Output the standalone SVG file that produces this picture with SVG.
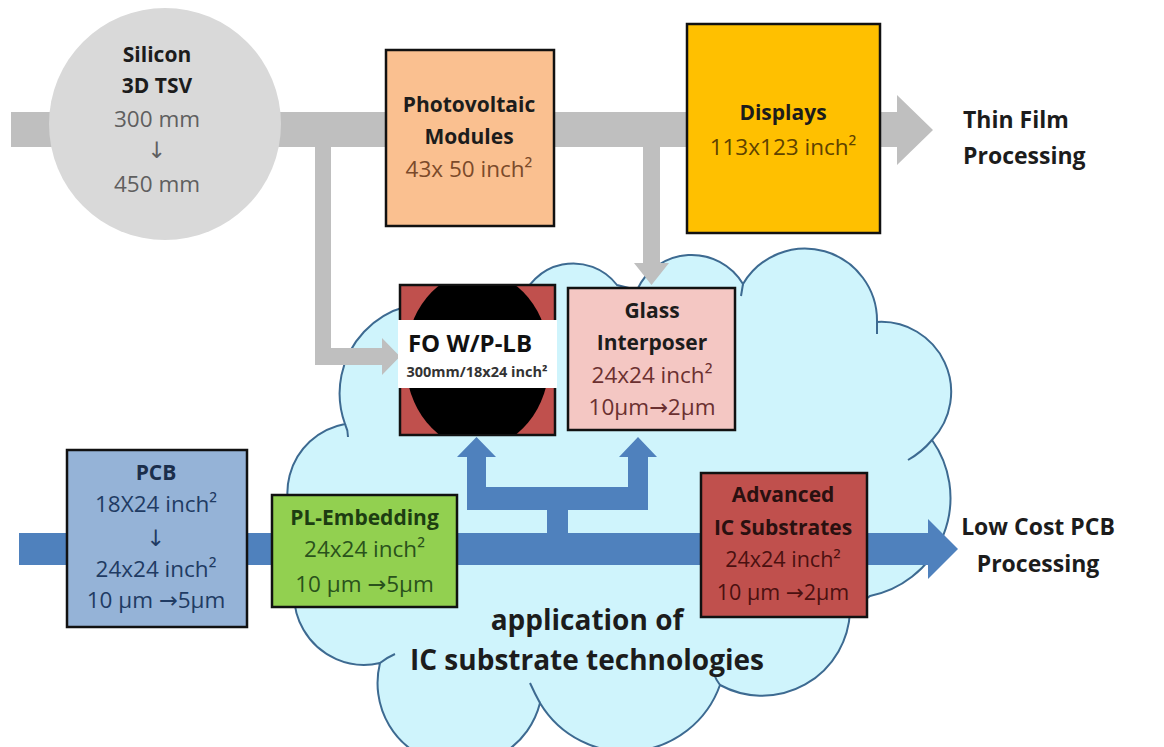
<svg xmlns="http://www.w3.org/2000/svg" width="1164" height="747" viewBox="0 0 1164 747">
<style>
.t{font-family:"Open Sans","Liberation Sans",sans-serif;text-anchor:middle}
.b{font-weight:bold;font-size:21px;fill:#1c1c1c}
.n{font-size:22.5px}
.ar{font-family:"DejaVu Sans",sans-serif;font-weight:normal}
.box{stroke:#111;stroke-width:2.5}
.gray{fill:#bfbfbf}
.blue{fill:#4f81bd}
.cl{fill:none;stroke:#3d6a91;stroke-width:2}
</style>
<defs>
<clipPath id="foclip"><rect x="401" y="286" width="153" height="148"/></clipPath>
</defs>
<rect width="1164" height="747" fill="#fff"/>
<g id="cloud">
<path d="M380 663 A70 70 0 0 1 313 547 A70 70 0 0 1 345 424 A90 90 0 0 1 455 307 A40 40 0 0 1 520 305 A55 55 0 0 1 617 285 L637 290 A60 60 0 0 1 743 284 A72 72 0 0 1 877 322 A70 70 0 0 1 932 440 A100 100 0 0 1 870 596 L850 612 A88 88 0 0 1 720 685 A100 100 0 0 1 540 703 A75 75 0 0 1 380 663 Z" fill="#cff4fc" stroke="#3d6a91" stroke-width="2"/>
<path class="cl" d="M345 424 q3 6 3 13 M743 284 q-1 6 -2 12 M877 322 q0 6 0 12 M932 440 q-10 12 -24 20 M720 685 q-4 -5 -6 -11 M540 703 q-5 -9 -10 -20 M380 663 q6 -5 15 -9"/>
<text class="t" x="587" y="630" style="font-weight:bold;font-size:28px;fill:#1c1c1c">application of</text>
<text class="t" x="587" y="670" style="font-weight:bold;font-size:28px;fill:#1c1c1c">IC substrate technologies</text>
</g>
<g id="connectors">
<path class="gray" d="M11 112 H897 V95 L933 130 L897 165 V147 H11 Z"/>
<path class="gray" d="M315 147 H331 V348 H382 V338 L400 356.5 L382 375 V365 H315 Z"/>
<path class="gray" d="M643 147 H660 V263 H669 L651.5 285 L634 263 H643 Z"/>
<path class="blue" d="M19 533 H928 V519 L958 549 L928 579 V565 H19 Z"/>
<path class="blue" d="M547 533 V510 H467 V457 H457 L476.5 437 L496 457 H486 V487 H628 V457 H619 L638 437 L657 457 H648 V510 H568 V533 Z"/>
</g>
<g id="silicon">
<circle cx="165" cy="124" r="116" fill="#d9d9d9"/>
<text class="t b" x="157" y="62">Silicon</text>
<text class="t b" x="157" y="93">3D TSV</text>
<text class="t n" x="157" y="127" fill="#5f5f5f">300 mm</text>
<text class="t n ar" x="157" y="158" fill="#5f5f5f">↓</text>
<text class="t n" x="157" y="192" fill="#5f5f5f">450 mm</text>
</g>
<g id="photovoltaic">
<rect class="box" x="386" y="50" width="168" height="176" fill="#fac090"/>
<text class="t b" x="469" y="112">Photovoltaic</text>
<text class="t b" x="469" y="144">Modules</text>
<text class="t n" x="469" y="177" fill="#7b4a2a">43x 50 inch²</text>
</g>
<g id="displays">
<rect class="box" x="687" y="24" width="193" height="209" fill="#ffc000"/>
<text class="t b" x="783" y="120">Displays</text>
<text class="t n" x="783" y="155" fill="#5e4200">113x123 inch²</text>
</g>
<g id="thinfilm">
<text class="t b" x="963" y="128" style="text-anchor:start;font-size:23px">Thin Film</text>
<text class="t b" x="963" y="164" style="text-anchor:start;font-size:23px">Processing</text>
</g>
<g id="fo">
<rect class="box" x="400" y="285" width="155" height="150" fill="#c0504d"/>
<ellipse cx="477.5" cy="360" rx="72" ry="88" fill="#000" clip-path="url(#foclip)"/>
<rect x="398" y="320" width="159" height="68" fill="#fff"/>
<text class="t" x="470" y="352" style="font-weight:bold;font-size:24px;fill:#111">FO W/P-LB</text>
<text class="t" x="477" y="377" style="font-weight:bold;font-size:14.5px;fill:#333">300mm/18x24 inch²</text>
</g>
<g id="glass">
<rect class="box" x="568" y="288" width="167" height="142" fill="#f4c7c3"/>
<text class="t b" x="652" y="318">Glass</text>
<text class="t b" x="652" y="350">Interposer</text>
<text class="t n" x="652" y="383" fill="#6b3030">24x24 inch²</text>
<text class="t n" x="652" y="415" fill="#6b3030">10µm<tspan class="ar">→</tspan>2µm</text>
</g>
<g id="pcb">
<rect class="box" x="67" y="450" width="180" height="177" fill="#95b3d7"/>
<text class="t b" x="156" y="480" style="fill:#1b2e4b">PCB</text>
<text class="t n" x="156" y="512" fill="#1f3b63">18X24 inch²</text>
<text class="t n ar" x="156" y="546" fill="#1f3b63">↓</text>
<text class="t n" x="156" y="577" fill="#1f3b63">24x24 inch²</text>
<text class="t n" x="156" y="608" fill="#1f3b63">10 µm <tspan class="ar">→</tspan>5µm</text>
</g>
<g id="plembedding">
<rect class="box" x="272" y="495" width="185" height="112" fill="#92d050"/>
<text class="t b" x="364.5" y="525" style="fill:#1d3d12">PL-Embedding</text>
<text class="t n" x="364.5" y="557" fill="#2a521c">24x24 inch²</text>
<text class="t n" x="364.5" y="592" fill="#2a521c">10 µm <tspan class="ar">→</tspan>5µm</text>
</g>
<g id="advanced">
<rect class="box" x="701" y="473" width="166" height="144" fill="#c0504d"/>
<text class="t b" x="783" y="502" style="fill:#2a1010">Advanced</text>
<text class="t b" x="783" y="535" style="fill:#2a1010">IC Substrates</text>
<text class="t" x="783" y="567" style="font-size:21.5px;fill:#4a1010">24x24 inch²</text>
<text class="t" x="783" y="600" style="font-size:21.5px;fill:#4a1010">10 µm <tspan class="ar">→</tspan>2µm</text>
</g>
<g id="lowcost">
<text class="t b" x="1038" y="535" style="font-size:23px">Low Cost PCB</text>
<text class="t b" x="1038" y="572" style="font-size:23px">Processing</text>
</g>
</svg>
